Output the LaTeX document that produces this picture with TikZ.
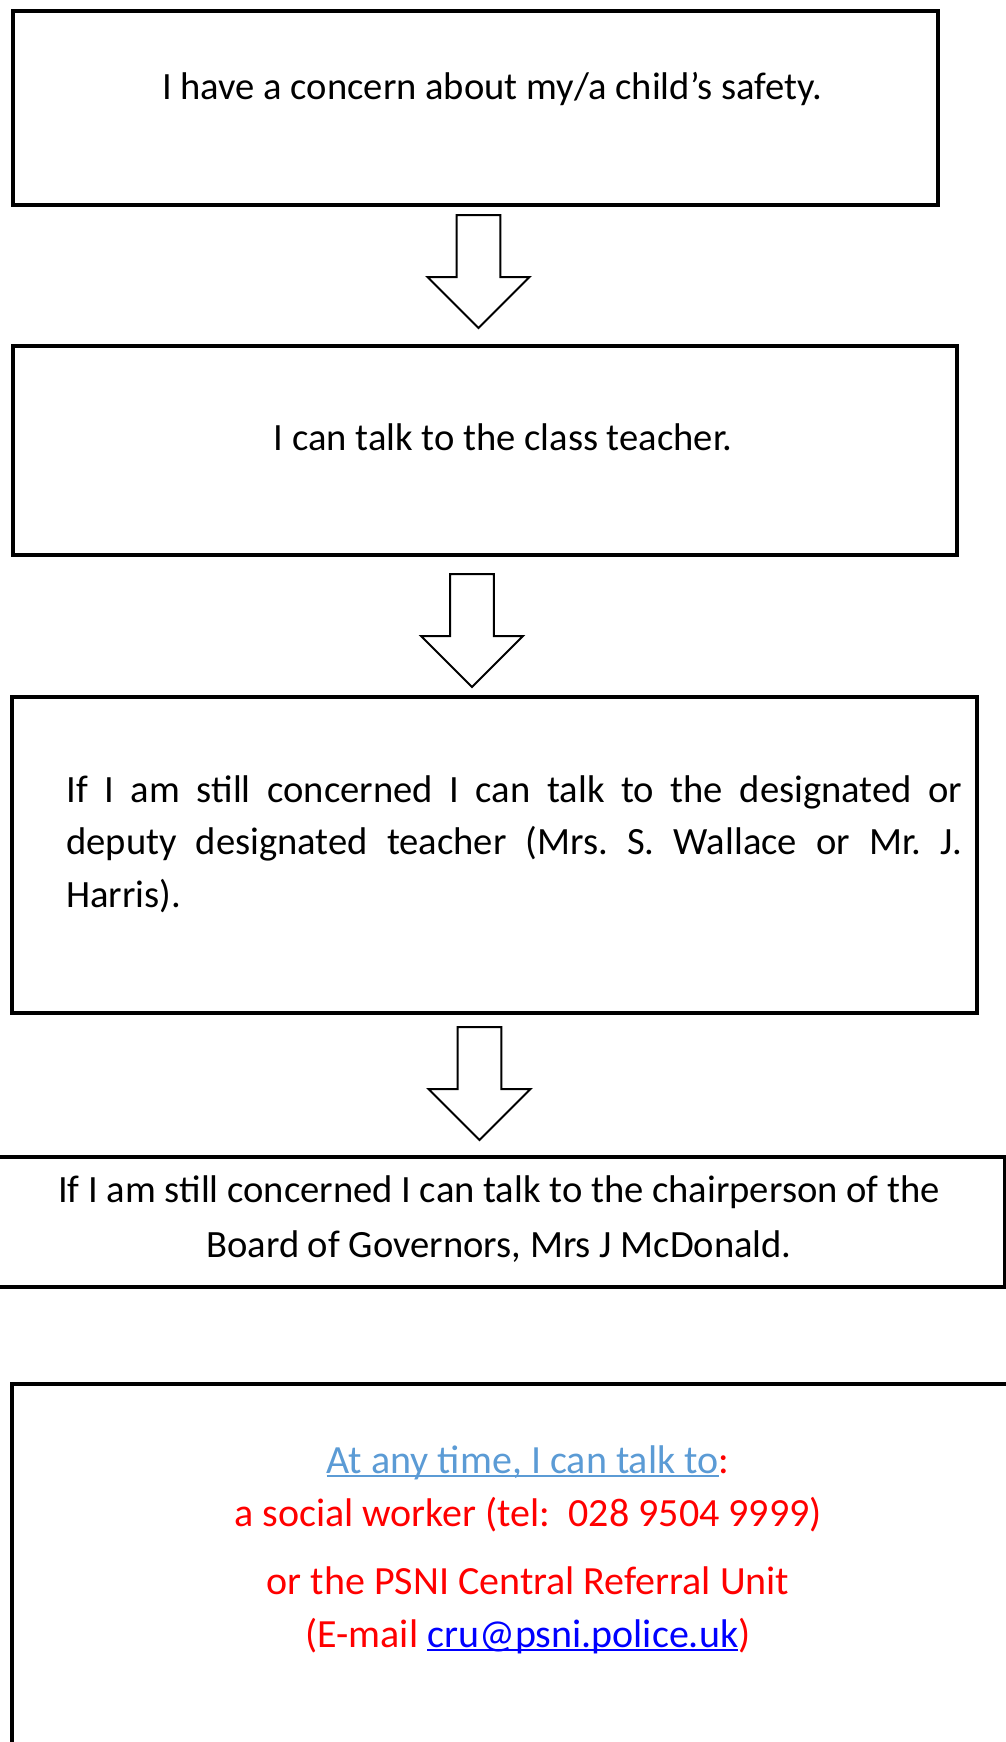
\documentclass[tikz,border=0pt]{standalone}
\usepackage{fontspec}
\setmainfont{Carlito}
\usetikzlibrary{shapes.arrows}
\definecolor{atblue}{RGB}{91,155,213}
\definecolor{mailblue}{RGB}{0,0,255}
\newcommand\ulbox[1]{\setbox0\hbox{#1}\rlap{\rule[-1.8pt]{\wd0}{.8pt}}\box0}
\frenchspacing
\begin{document}
\begin{tikzpicture}[x=.5pt, y=-.5pt, line join=miter,
	box/.style={draw, line width=1.9pt, inner sep=0pt, anchor=north west},
	txt/.style={inner sep=0pt, font=\fontsize{19.3}{26.25}\selectfont},
	downarrow/.style={single arrow, draw, line width=1pt, fill=white,
		shape border rotate=270, anchor=tail, inner sep=9pt,
		minimum height=56.5pt, minimum width=51pt,
		single arrow head extend=12.75pt, single arrow head indent=0pt}]
	%% Khung
	\useasboundingbox (0,0) rectangle (1006,1742);
	\clip (0,0) rectangle (1006,1742);
	%% Cac hop
	\node [box, minimum width=462.5pt, minimum height=97pt] (box1) at (11,9) {};
	\node [box, minimum width=472pt, minimum height=104.5pt] (box2) at (11,344) {};
	\node [box, minimum width=482.5pt, minimum height=158pt] (box3) at (10,695) {};
	\node [box, minimum width=506pt, minimum height=65pt] (box4) at (-9,1155) {};
	\node [box, minimum width=510pt, minimum height=200pt] (box5) at (10,1382) {};
	%% Chu
	\node [txt, anchor=base] (t1) at (492,99) {I have a concern about my/a child’s safety.};
	\node [txt, anchor=base] (t2) at (503,450) {I can talk to the class teacher.};
	\node [txt, anchor=base west, text width=448pt, align=justify] (t3) at (66,802)
		{If I am still concerned I can talk to the designated or\linebreak
		deputy designated teacher (Mrs. S. Wallace or Mr. J.\linebreak
		Harris).};
	%% base = dong cuoi
	\node [txt, anchor=base, align=center, font=\fontsize{19.3}{27.5}\selectfont] (t4) at (499,1257)
		{If I am still concerned I can talk to the chairperson of the\\
		Board of Governors, Mrs J McDonald.};
	\node [txt, anchor=base, align=center, font=\fontsize{20}{26.5}\selectfont] (t5) at (528,1647)
		{{\color{atblue}\ulbox{At any time, I can talk to}}\textcolor{red}{:}\\
		\color{red}a social worker (tel:\ \ 028 9504 9999)\\[7.5pt]
		\color{red}or the PSNI Central Referral Unit\\
		\color{red}(E-mail {\color{mailblue}\ulbox{cru@psni.police.uk}})};
	%% Mui ten
	\node [downarrow] (arr1) at (478.5,214) {};
	\node [downarrow] (arr2) at (472,573) {};
	\node [downarrow] (arr3) at (479.5,1026) {};
\end{tikzpicture}
\end{document}
